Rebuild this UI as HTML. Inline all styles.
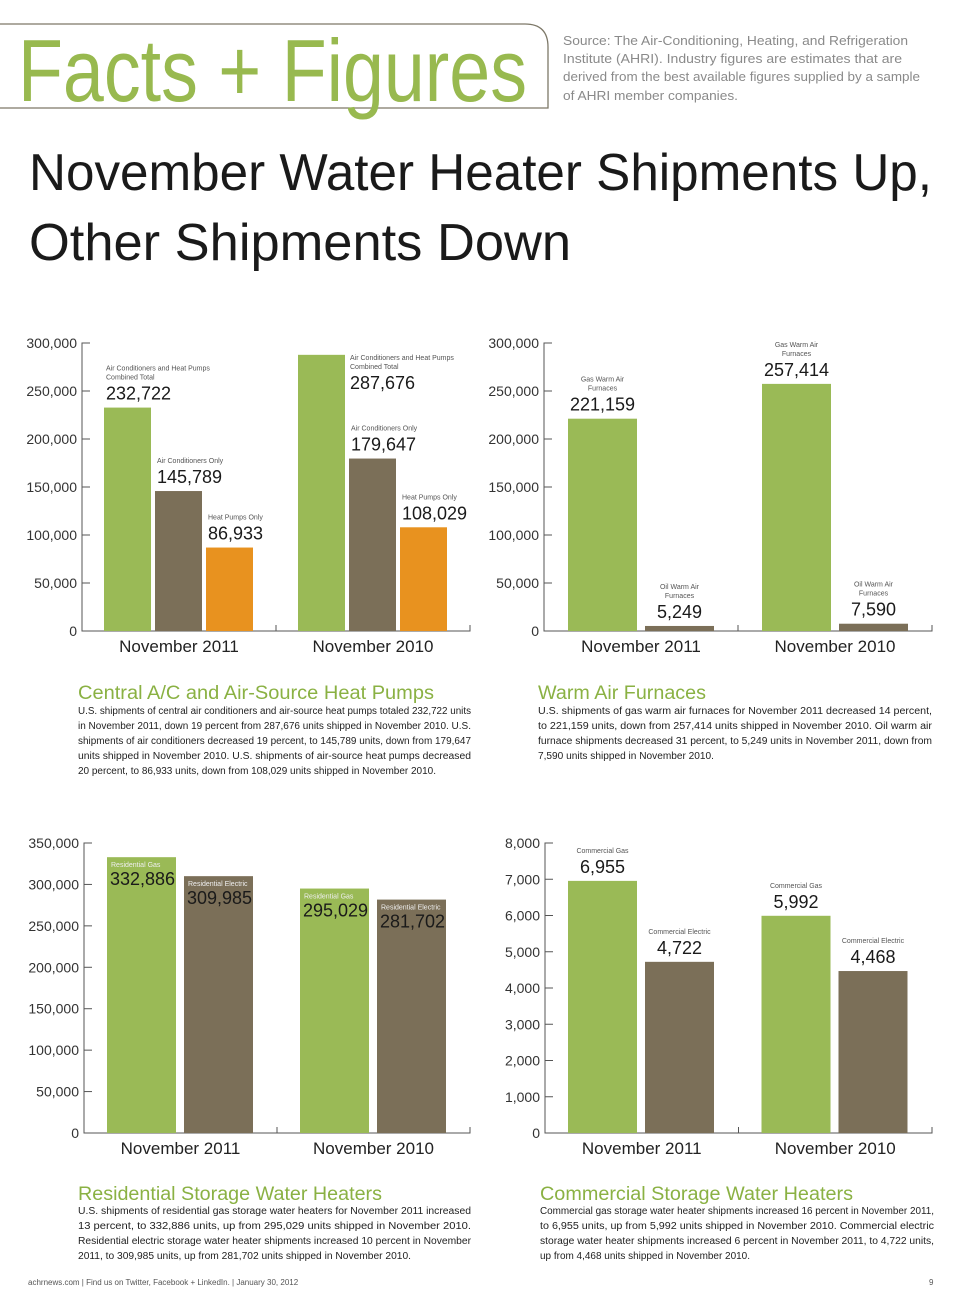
<!DOCTYPE html>
<html><head><meta charset="utf-8"><style>
body{margin:0;background:#fff;}
svg{display:block;font-family:"Liberation Sans",sans-serif;}
</style></head><body>
<svg id="page" width="960" height="1303" viewBox="0 0 960 1303" xmlns="http://www.w3.org/2000/svg">
<g>
<path d="M0 24 H525 Q548 24 548 47 V108 H0" fill="none" stroke="#7d7868" stroke-width="1.3"/>
<text x="18" y="101" font-size="88" fill="#98b94f" textLength="509" lengthAdjust="spacingAndGlyphs">Facts + Figures</text>
<g font-size="13" fill="#8a8a8a">
<text x="563" y="45" textLength="345" lengthAdjust="spacingAndGlyphs">Source: The Air-Conditioning, Heating, and Refrigeration</text>
<text x="563" y="63" textLength="339" lengthAdjust="spacingAndGlyphs">Institute (AHRI). Industry figures are estimates that are</text>
<text x="563" y="81" textLength="357" lengthAdjust="spacingAndGlyphs">derived from the best available figures supplied by a sample</text>
<text x="563" y="100" textLength="175" lengthAdjust="spacingAndGlyphs">of AHRI member companies.</text>
</g>
</g>
<g font-size="52" fill="#1a1a1a">
<text x="29" y="190" textLength="903" lengthAdjust="spacingAndGlyphs">November Water Heater Shipments Up,</text>
<text x="29" y="260" textLength="542" lengthAdjust="spacingAndGlyphs">Other Shipments Down</text>
</g>
<g id="charts"></g>
<g>
<text x="78" y="699" font-size="19" fill="#8ab143" textLength="356" lengthAdjust="spacingAndGlyphs">Central A/C and Air-Source Heat Pumps</text>
<g font-size="10" fill="#222">
<text x="78" y="714" textLength="393" lengthAdjust="spacingAndGlyphs">U.S. shipments of central air conditioners and air-source heat pumps totaled 232,722 units</text>
<text x="78" y="729" textLength="393" lengthAdjust="spacingAndGlyphs">in November 2011, down 19 percent from 287,676 units shipped in November 2010. U.S.</text>
<text x="78" y="744" textLength="393" lengthAdjust="spacingAndGlyphs">shipments of air conditioners decreased 19 percent, to 145,789 units, down from 179,647</text>
<text x="78" y="759" textLength="393" lengthAdjust="spacingAndGlyphs">units shipped in November 2010. U.S. shipments of air-source heat pumps decreased</text>
<text x="78" y="774" textLength="358" lengthAdjust="spacingAndGlyphs">20 percent, to 86,933 units, down from 108,029 units shipped in November 2010.</text>
</g>
<text x="538" y="699" font-size="19" fill="#8ab143" textLength="168" lengthAdjust="spacingAndGlyphs">Warm Air Furnaces</text>
<g font-size="10" fill="#222">
<text x="538" y="714" textLength="394" lengthAdjust="spacingAndGlyphs">U.S. shipments of gas warm air furnaces for November 2011 decreased 14 percent,</text>
<text x="538" y="729" textLength="394" lengthAdjust="spacingAndGlyphs">to 221,159 units, down from 257,414 units shipped in November 2010. Oil warm air</text>
<text x="538" y="744" textLength="394" lengthAdjust="spacingAndGlyphs">furnace shipments decreased 31 percent, to 5,249 units in November 2011, down from</text>
<text x="538" y="759" textLength="176" lengthAdjust="spacingAndGlyphs">7,590 units shipped in November 2010.</text>
</g>
<text x="78" y="1200" font-size="19" fill="#8ab143" textLength="304" lengthAdjust="spacingAndGlyphs">Residential Storage Water Heaters</text>
<g font-size="10" fill="#222">
<text x="78" y="1214" textLength="393" lengthAdjust="spacingAndGlyphs">U.S. shipments of residential gas storage water heaters for November 2011 increased</text>
<text x="78" y="1229" textLength="393" lengthAdjust="spacingAndGlyphs">13 percent, to 332,886 units, up from 295,029 units shipped in November 2010.</text>
<text x="78" y="1244" textLength="393" lengthAdjust="spacingAndGlyphs">Residential electric storage water heater shipments increased 10 percent in November</text>
<text x="78" y="1259" textLength="333" lengthAdjust="spacingAndGlyphs">2011, to 309,985 units, up from 281,702 units shipped in November 2010.</text>
</g>
<text x="540" y="1200" font-size="19" fill="#8ab143" textLength="313" lengthAdjust="spacingAndGlyphs">Commercial Storage Water Heaters</text>
<g font-size="10" fill="#222">
<text x="540" y="1214" textLength="394" lengthAdjust="spacingAndGlyphs">Commercial gas storage water heater shipments increased 16 percent in November 2011,</text>
<text x="540" y="1229" textLength="394" lengthAdjust="spacingAndGlyphs">to 6,955 units, up from 5,992 units shipped in November 2010. Commercial electric</text>
<text x="540" y="1244" textLength="394" lengthAdjust="spacingAndGlyphs">storage water heater shipments increased 6 percent in November 2011, to 4,722 units,</text>
<text x="540" y="1259" textLength="210" lengthAdjust="spacingAndGlyphs">up from 4,468 units shipped in November 2010.</text>
</g>
</g>
<g font-size="8" fill="#555">
<text x="28" y="1285">achrnews.com  |  Find us on Twitter, Facebook + LinkedIn.  |  January 30, 2012</text>
<text x="929" y="1285">9</text>
</g>
</svg>
<script>
const categories = ["November 2011", "November 2010"];
const acSeriesNames = [["Air Conditioners and Heat Pumps","Combined Total"],["Air Conditioners Only"],["Heat Pumps Only"]];
const acCombined = [232722, 287676];
const acOnly = [145789, 179647];
const heatPumpsOnly = [86933, 108029];
const acTicks = [0, 50000, 100000, 150000, 200000, 250000, 300000];
const furnSeriesNames = [["Gas Warm Air","Furnaces"],["Oil Warm Air","Furnaces"]];
const gasFurnaces = [221159, 257414];
const oilFurnaces = [5249, 7590];
const furnTicks = [0, 50000, 100000, 150000, 200000, 250000, 300000];
const resSeriesNames = [["Residential Gas"],["Residential Electric"]];
const resGas = [332886, 295029];
const resElectric = [309985, 281702];
const resTicks = [0, 50000, 100000, 150000, 200000, 250000, 300000, 350000];
const comSeriesNames = [["Commercial Gas"],["Commercial Electric"]];
const comGas = [6955, 5992];
const comElectric = [4722, 4468];
const comTicks = [0, 1000, 2000, 3000, 4000, 5000, 6000, 7000, 8000];

const NS = "http://www.w3.org/2000/svg";
const COLORS = ["#9aba56", "#7b6f58", "#e8921f"];
const fmt = v => v.toLocaleString("en-US");
function mk(parent, tag, attrs, txt){
  const e = document.createElementNS(NS, tag);
  for (const k in attrs) e.setAttribute(k, attrs[k]);
  if (txt !== undefined) e.textContent = txt;
  parent.appendChild(e); return e;
}
function chart(cfg){
  const g = mk(document.getElementById("charts"), "g", {});
  
  
  const max = cfg.ticks[cfg.ticks.length-1];
  const y = v => cfg.y0 - (v / max) * (cfg.y0 - cfg.yTop);
  const ax = cfg.axisX, end = cfg.axisEnd;
  const groupW = (end - ax) / categories.length;
  const axis = mk(g, "path", {d:`M${ax+8} ${cfg.yTop} H${ax} V${cfg.y0} H${end} V${cfg.y0-6} M${ax+groupW} ${cfg.y0} V${cfg.y0-6}`, fill:"none", stroke:"#555", "stroke-width":1});
  
  
  cfg.ticks.forEach(t=>{
    mk(g, "line", {x1:ax, x2:ax+8, y1:y(t), y2:y(t), stroke:"#555"});
    const tl = mk(g, "text", {x:ax-5, y:y(t)+5, "font-size":14, "text-anchor":"end", fill:"#333"}, fmt(t));
    
    
  });
  categories.forEach((c, ci)=>{
    const gx = ax + ci*groupW + cfg.pad;
    const cl = mk(g, "text", {x:ax + ci*groupW + groupW/2 + 0, y:cfg.y0+21, "font-size":17, "text-anchor":"middle", fill:"#222"}, c);
    
    
    cfg.series.forEach((s, si)=>{
      const x = gx + si*(cfg.bw+cfg.gap);
      const v = s[ci];
      const r = mk(g, "rect", {x:x, y:y(v), width:cfg.bw, height:cfg.y0 - y(v), fill:COLORS[si]});
      
      
      const names = cfg.names[si];
      if (cfg.inside){
        mk(g, "text", {x:x+4, y:y(v)+10, "font-size":7, fill:"#eee"}, names[0]);
        const vl = mk(g, "text", {x:x+3, y:y(v)+28, "font-size":18, fill:"#1a1a1a"}, fmt(v));
        
        
      } else {
        let cx = cfg.center ? x + cfg.bw/2 : x + 2;
        const anchor = cfg.center ? "middle" : "start";
        let base = y(v) - 8;
        if (base - 20 - (names.length-1)*9 < cfg.yTop - 4) {
          // not enough room above: place beside the bar
          cx = x + cfg.bw + cfg.gap + 1;
          base = y(v) + 34;
        }
        const vl = mk(g, "text", {x:cx, y:base, "font-size":18, fill:"#1a1a1a", "text-anchor":anchor}, fmt(v));
        
        
        names.forEach((n, ni)=>{
          mk(g, "text", {x:cx, y:base - 20 - (names.length-1-ni)*9, "font-size":7, fill:"#555", "text-anchor":anchor}, n);
        });
      }
    });
  });
}
chart({name:"ac-heat-pump-chart", axisX:82, axisEnd:470, yTop:343, y0:631, ticks:acTicks, series:[acCombined, acOnly, heatPumpsOnly], names:acSeriesNames, bw:47, gap:4, pad:22});
chart({name:"furnace-chart", axisX:544, axisEnd:932, yTop:343, y0:631, ticks:furnTicks, series:[gasFurnaces, oilFurnaces], names:furnSeriesNames, bw:69, gap:8, pad:24, center:true});
chart({name:"residential-water-heater-chart", axisX:84, axisEnd:470, yTop:843, y0:1133, ticks:resTicks, series:[resGas, resElectric], names:resSeriesNames, bw:69, gap:8, pad:23, inside:true});
chart({name:"commercial-water-heater-chart", axisX:545, axisEnd:932, yTop:843, y0:1133, ticks:comTicks, series:[comGas, comElectric], names:comSeriesNames, bw:69, gap:8, pad:23, center:true});
</script>
</body></html>
